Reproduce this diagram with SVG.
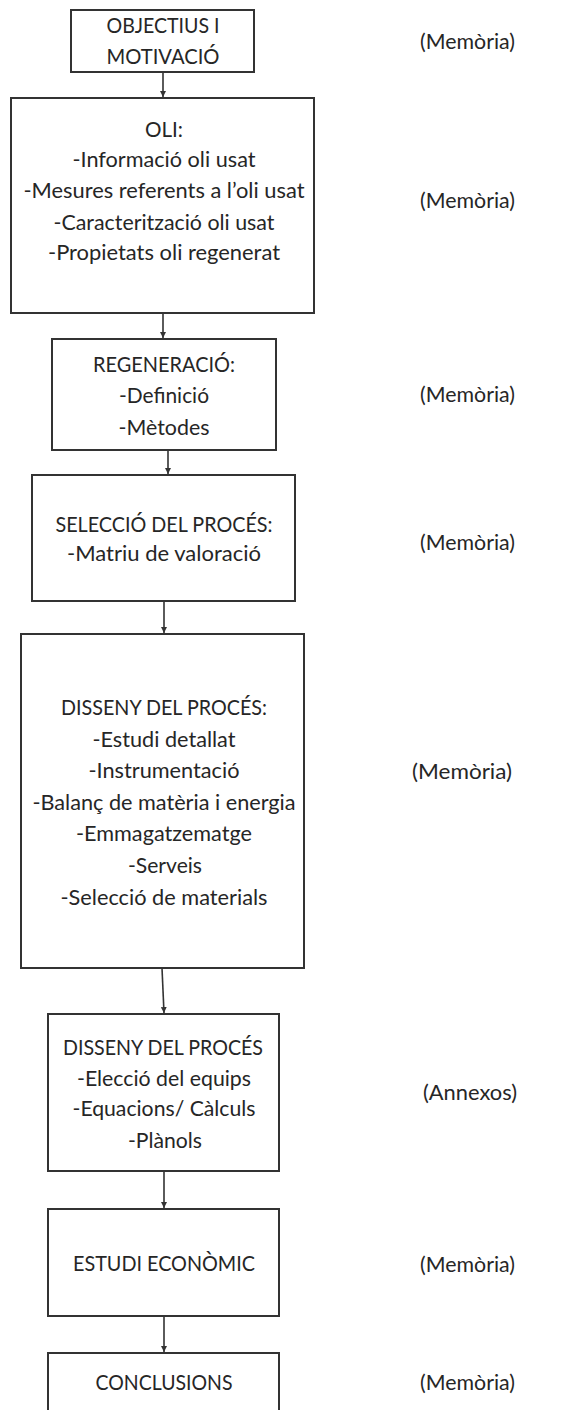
<svg xmlns="http://www.w3.org/2000/svg" width="588" height="1410" viewBox="0 0 588 1410">
  <style>
    .box { fill: #ffffff; stroke: #333333; stroke-width: 2; }
    .t { font-family: Lato, "Open Sans", "Liberation Sans", sans-serif; font-size: 21px; fill: #262626; text-anchor: middle; }
    .side { font-family: Lato, "Open Sans", "Liberation Sans", sans-serif; font-size: 21px; fill: #262626; }
    .link { stroke: #333333; stroke-width: 1.6; fill: none; marker-end: url(#arrow); }
  </style>
  <defs>
    <marker id="arrow" viewBox="0 0 6 6" refX="6" refY="3" markerWidth="6" markerHeight="6" markerUnits="userSpaceOnUse" orient="auto">
      <path d="M0,0 L6,3 L0,6 Z" fill="#333333"/>
    </marker>
  </defs>
  <rect width="588" height="1410" fill="#ffffff"/>

  <!-- flow connectors -->
  <g id="connectors">
    <line class="link" x1="163" y1="72" x2="163" y2="97"/>
    <line class="link" x1="163" y1="313" x2="163" y2="338"/>
    <line class="link" x1="168" y1="450" x2="168" y2="474"/>
    <line class="link" x1="164" y1="601" x2="164" y2="633"/>
    <line class="link" x1="162" y1="968" x2="164" y2="1013"/>
    <line class="link" x1="164" y1="1171" x2="164" y2="1208"/>
    <line class="link" x1="164" y1="1316" x2="164" y2="1352"/>
  </g>

  <g id="objectius">
    <rect class="box" x="71" y="10" width="183" height="62"/>
    <text class="t" x="163" y="33" textLength="113" lengthAdjust="spacingAndGlyphs">OBJECTIUS I</text>
    <text class="t" x="163" y="64" textLength="113" lengthAdjust="spacingAndGlyphs">MOTIVACIÓ</text>
  </g>

  <g id="oli">
    <rect class="box" x="11" y="98" width="303" height="215"/>
    <text class="t" x="164" y="137" textLength="38" lengthAdjust="spacingAndGlyphs">OLI:</text>
    <text class="t" x="164" y="167" textLength="183" lengthAdjust="spacingAndGlyphs">-Informació oli usat</text>
    <text class="t" x="164" y="198" textLength="281" lengthAdjust="spacingAndGlyphs">-Mesures referents a l’oli usat</text>
    <text class="t" x="164" y="230" textLength="221" lengthAdjust="spacingAndGlyphs">-Caracterització oli usat</text>
    <text class="t" x="164" y="260" textLength="232" lengthAdjust="spacingAndGlyphs">-Propietats oli regenerat</text>
  </g>

  <g id="regeneracio">
    <rect class="box" x="52" y="339" width="224" height="111"/>
    <text class="t" x="164" y="372" textLength="142" lengthAdjust="spacingAndGlyphs">REGENERACIÓ:</text>
    <text class="t" x="164" y="403" textLength="90" lengthAdjust="spacingAndGlyphs">-Definició</text>
    <text class="t" x="164" y="435" textLength="91" lengthAdjust="spacingAndGlyphs">-Mètodes</text>
  </g>

  <g id="seleccio">
    <rect class="box" x="32" y="475" width="263" height="126"/>
    <text class="t" x="164" y="532" textLength="217" lengthAdjust="spacingAndGlyphs">SELECCIÓ DEL PROCÉS:</text>
    <text class="t" x="164" y="561" textLength="194" lengthAdjust="spacingAndGlyphs">-Matriu de valoració</text>
  </g>

  <g id="disseny">
    <rect class="box" x="21" y="634" width="283" height="334"/>
    <text class="t" x="164" y="715" textLength="206" lengthAdjust="spacingAndGlyphs">DISSENY DEL PROCÉS:</text>
    <text class="t" x="164" y="747" textLength="143" lengthAdjust="spacingAndGlyphs">-Estudi detallat</text>
    <text class="t" x="164" y="778" textLength="151" lengthAdjust="spacingAndGlyphs">-Instrumentació</text>
    <text class="t" x="164" y="810" textLength="263" lengthAdjust="spacingAndGlyphs">-Balanç de matèria i energia</text>
    <text class="t" x="164" y="841" textLength="176" lengthAdjust="spacingAndGlyphs">-Emmagatzematge</text>
    <text class="t" x="165" y="873" textLength="74" lengthAdjust="spacingAndGlyphs">-Serveis</text>
    <text class="t" x="164" y="905" textLength="207" lengthAdjust="spacingAndGlyphs">-Selecció de materials</text>
  </g>

  <g id="disseny-annexos">
    <rect class="box" x="48" y="1014" width="231" height="157"/>
    <text class="t" x="163" y="1055" textLength="200" lengthAdjust="spacingAndGlyphs">DISSENY DEL PROCÉS</text>
    <text class="t" x="164" y="1086" textLength="174" lengthAdjust="spacingAndGlyphs">-Elecció del equips</text>
    <text class="t" x="164" y="1116" textLength="183" lengthAdjust="spacingAndGlyphs">-Equacions/ Càlculs</text>
    <text class="t" x="165" y="1148" textLength="74" lengthAdjust="spacingAndGlyphs">-Plànols</text>
  </g>

  <g id="economic">
    <rect class="box" x="48" y="1209" width="231" height="107"/>
    <text class="t" x="164" y="1271" textLength="182" lengthAdjust="spacingAndGlyphs">ESTUDI ECONÒMIC</text>
  </g>

  <g id="conclusions">
    <rect class="box" x="48" y="1353" width="231" height="70"/>
    <text class="t" x="164" y="1390" textLength="137" lengthAdjust="spacingAndGlyphs">CONCLUSIONS</text>
  </g>

  <!-- document where each section lives -->
  <g id="labels">
    <text class="side" x="420" y="49" textLength="95" lengthAdjust="spacingAndGlyphs">(Memòria)</text>
    <text class="side" x="420" y="208" textLength="95" lengthAdjust="spacingAndGlyphs">(Memòria)</text>
    <text class="side" x="420" y="402" textLength="95" lengthAdjust="spacingAndGlyphs">(Memòria)</text>
    <text class="side" x="420" y="550" textLength="95" lengthAdjust="spacingAndGlyphs">(Memòria)</text>
    <text class="side" x="412" y="779" textLength="100" lengthAdjust="spacingAndGlyphs">(Memòria)</text>
    <text class="side" x="423" y="1100" textLength="94" lengthAdjust="spacingAndGlyphs">(Annexos)</text>
    <text class="side" x="420" y="1272" textLength="95" lengthAdjust="spacingAndGlyphs">(Memòria)</text>
    <text class="side" x="420" y="1390" textLength="95" lengthAdjust="spacingAndGlyphs">(Memòria)</text>
  </g>
</svg>
